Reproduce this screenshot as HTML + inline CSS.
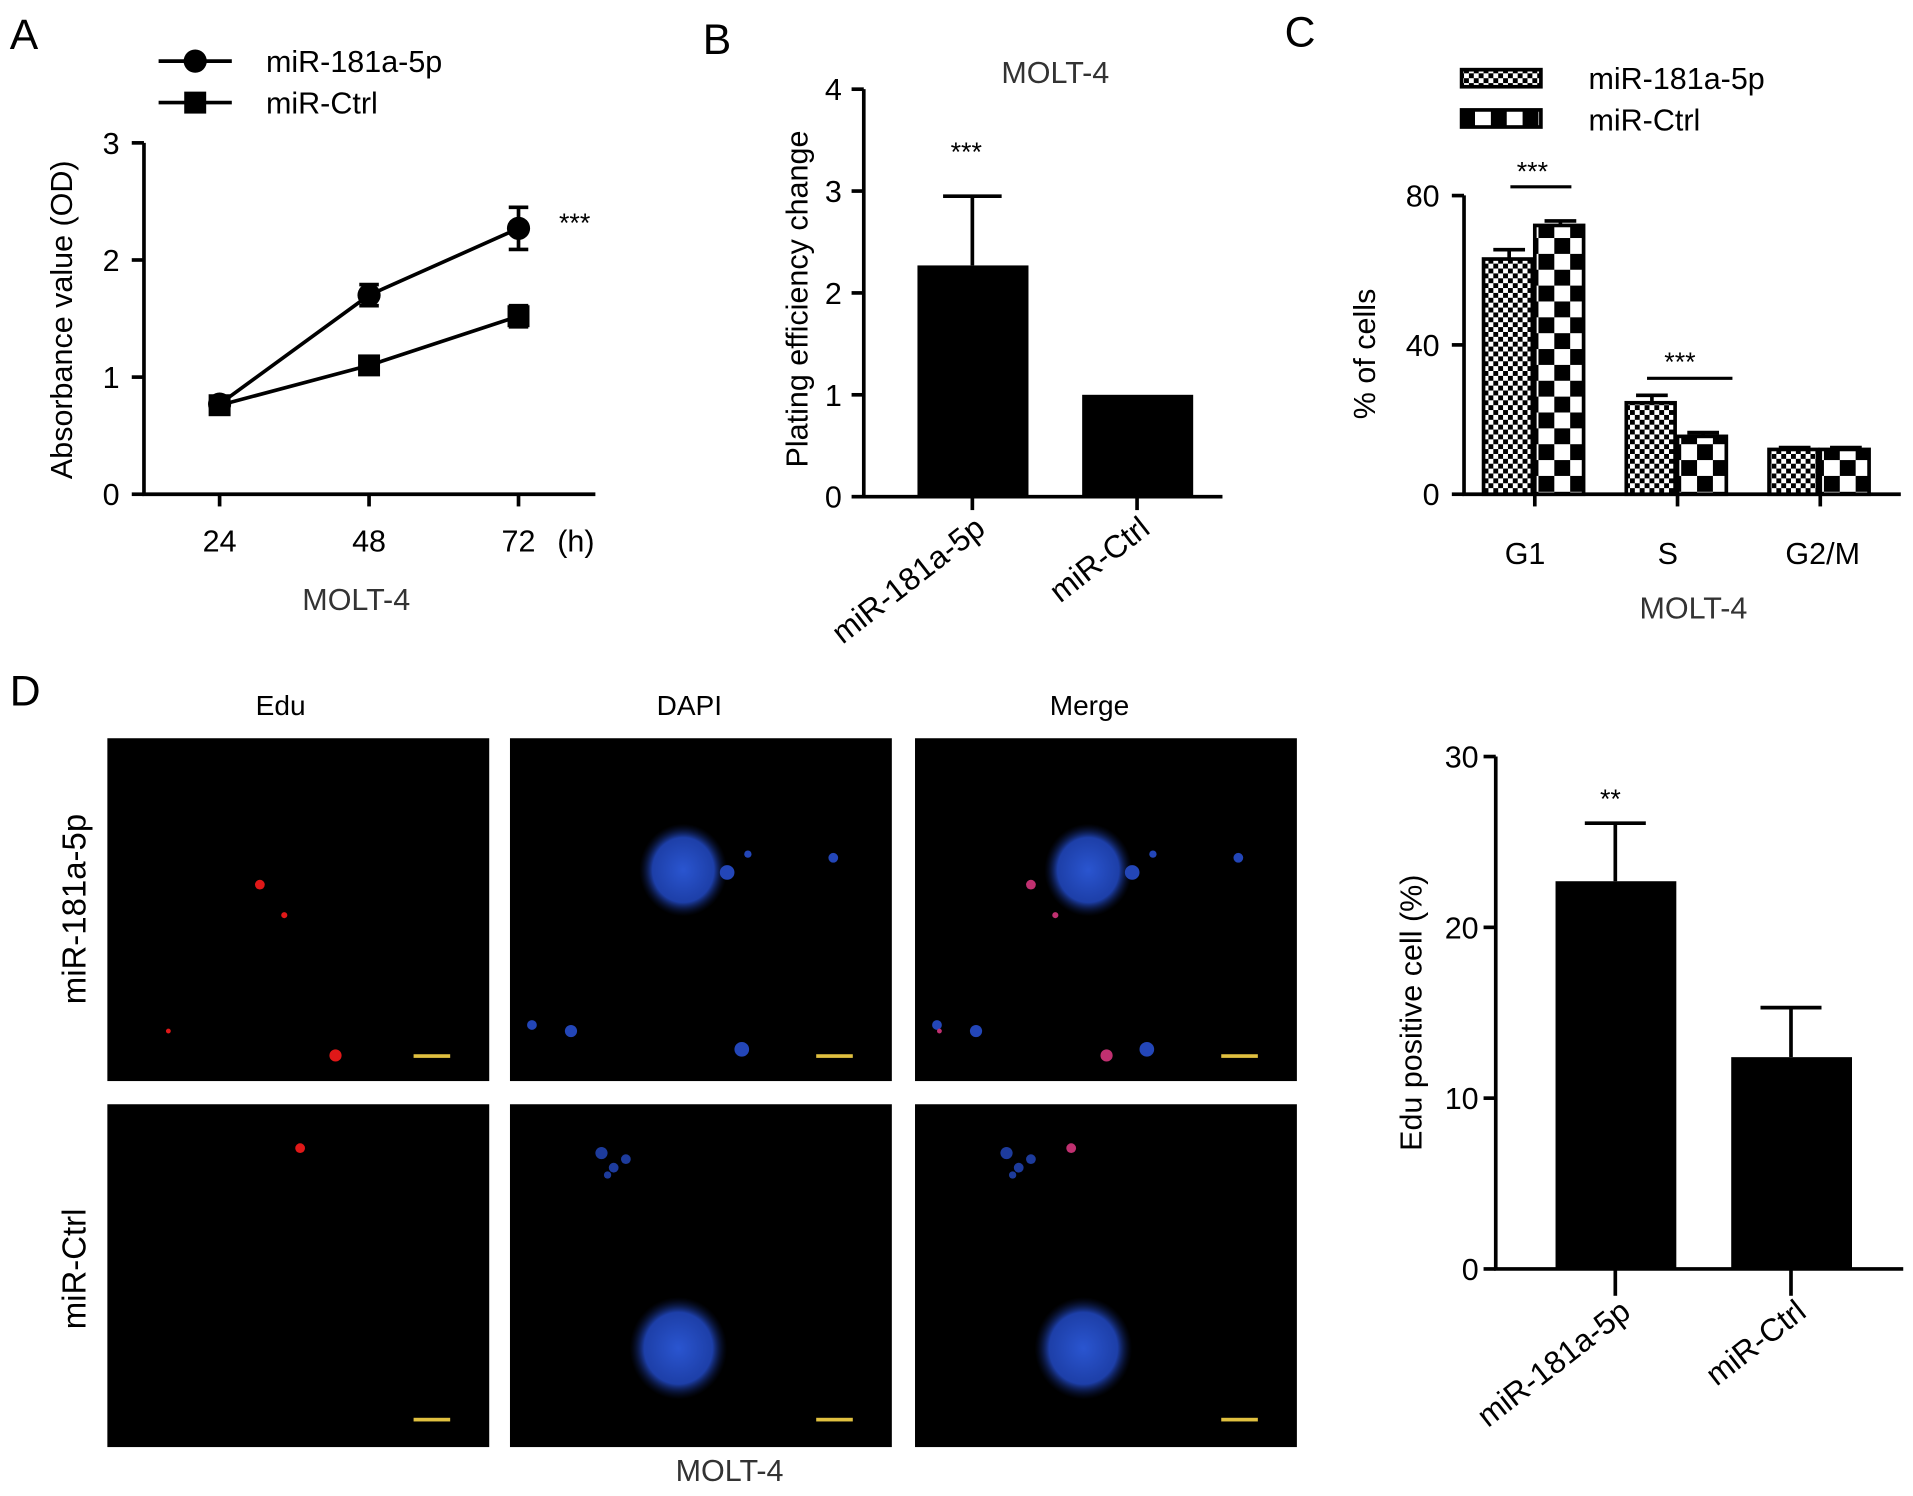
<!DOCTYPE html>
<html><head><meta charset="utf-8"><style>
html,body{margin:0;padding:0;background:#fff;}
svg{display:block;font-family:"Liberation Sans",Arial,sans-serif;}
</style></head><body>
<svg id="s" width="1913" height="1496" viewBox="0 0 1568 1226" xmlns="http://www.w3.org/2000/svg">
<defs>
<pattern id="pSmall" width="8" height="8" patternUnits="userSpaceOnUse"><rect width="8" height="8" fill="#fff"/><rect width="4" height="4" fill="#000"/><rect x="4" y="4" width="4" height="4" fill="#000"/></pattern>
<pattern id="pBig" width="26" height="26" patternUnits="userSpaceOnUse"><rect width="26" height="26" fill="#fff"/><rect x="13" width="13" height="13" fill="#000"/><rect y="13" width="13" height="13" fill="#000"/></pattern>
<radialGradient id="blob"><stop offset="0" stop-color="#2a55d0"/><stop offset="0.7" stop-color="#1d3fa8"/><stop offset="1" stop-color="#0a1540" stop-opacity="0"/></radialGradient>
</defs>
<g font-size="35">
<text x="8" y="40">A</text>
<text x="576" y="44">B</text>
<text x="1053" y="38">C</text>
<text x="8" y="578">D</text>
</g>
<g id="A"></g>
<g id="B"></g>
<g id="C"></g>
<g id="D"></g>
<g id="E"></g>
</svg>
<script>
// Panel A data
const aCats=['24','48','72'];
const aMir=[0.77,1.7,2.27];
const aMirErr=[0.05,0.09,0.18];
const aCtrl=[0.76,1.1,1.52];
const aCtrlErr=[0.04,0.05,0.09];
const aTicks=[0,1,2,3];
// Panel B data
const bCats=['miR-181a-5p','miR-Ctrl'];
const bVals=[2.27,1.0];
const bErr=[0.68,0];
const bTicks=[0,1,2,3,4];
// Panel C data
const cCats=['G1','S','G2/M'];
const cMir=[63,24.5,12];
const cMirErr=[2.5,2,0.5];
const cCtrl=[72,15.5,12];
const cCtrlErr=[1.2,1,0.5];
const cTicks=[0,40,80];
// Panel D bar data
const eCats=['miR-181a-5p','miR-Ctrl'];
const eVals=[22.7,12.4];
const eErr=[3.4,2.9];
const eTicks=[0,10,20,30];

const NS='http://www.w3.org/2000/svg';
function mk(p,tag,at,txt){const e=document.createElementNS(NS,tag);for(const k in at)e.setAttribute(k,at[k]);if(txt!==undefined)e.textContent=txt;p.appendChild(e);return e;}
const K={stroke:'#000','stroke-width':3,fill:'none'};

// ---------- Panel A ----------
(function(){
const g=document.getElementById('A');
const y=v=>405-v*96, x=i=>180+i*122.5;
let e=mk(g,'path',Object.assign({d:'M118,117V405H488'},K));


aTicks.forEach(t=>{mk(g,'line',{x1:108,x2:118,y1:y(t),y2:y(t),stroke:'#000','stroke-width':3});
 let l=mk(g,'text',{x:98,y:y(t)+9,'font-size':25,'text-anchor':'end'},t);
 
 });
aCats.forEach((c,i)=>{mk(g,'line',{x1:x(i),x2:x(i),y1:405,y2:415,stroke:'#000','stroke-width':3});
 let l=mk(g,'text',{x:x(i),y:452,'font-size':25,'text-anchor':'middle'},c);
 
 });
mk(g,'text',{x:472,y:452,'font-size':25,'text-anchor':'middle'},'(h)');
e=mk(g,'text',{x:292,y:500,'font-size':25,'text-anchor':'middle',fill:'#333'},'MOLT-4');


e=mk(g,'text',{transform:'translate(59,262) rotate(-90)','font-size':25,'text-anchor':'middle'},'Absorbance value (OD)');


function series(vals,errs,sq,name){
 const s=mk(g,'g',{});
 
 
 mk(s,'polyline',Object.assign({points:vals.map((v,i)=>x(i)+','+y(v)).join(' ')},K));
 vals.forEach((v,i)=>{const d=errs[i]*96;
  mk(s,'path',{d:`M${x(i)},${y(v)-d}V${y(v)+d}M${x(i)-8},${y(v)-d}H${x(i)+8}M${x(i)-8},${y(v)+d}H${x(i)+8}`,stroke:'#000','stroke-width':3});
  let m=sq?mk(s,'rect',{x:x(i)-9,y:y(v)-9,width:18,height:18}):mk(s,'circle',{cx:x(i),cy:y(v),r:9.5});
  
  });
}
series(aCtrl,aCtrlErr,true,'a-series-mir-ctrl');
series(aMir,aMirErr,false,'a-series-mir-181a-5p');
mk(g,'text',{x:471,y:190,'font-size':22,'text-anchor':'middle'},'***');
const lg=mk(g,'g',{});


mk(lg,'line',{x1:130,x2:190,y1:50,y2:50,stroke:'#000','stroke-width':3});mk(lg,'circle',{cx:160,cy:50,r:9.5});
mk(lg,'text',{x:218,y:59,'font-size':25},'miR-181a-5p');
mk(lg,'line',{x1:130,x2:190,y1:84,y2:84,stroke:'#000','stroke-width':3});mk(lg,'rect',{x:151,y:75,width:18,height:18});
mk(lg,'text',{x:218,y:93,'font-size':25},'miR-Ctrl');
})();

// ---------- Panel B ----------
(function(){
const g=document.getElementById('B');
const y=v=>407-v*83.5, x=i=>797+i*135;
let e=mk(g,'path',Object.assign({d:'M708,73V407H1002'},K));


bTicks.forEach(t=>{mk(g,'line',{x1:698,x2:708,y1:y(t),y2:y(t),stroke:'#000','stroke-width':3});
 let l=mk(g,'text',{x:690,y:y(t)+9,'font-size':25,'text-anchor':'end'},t);
 
 });
bCats.forEach((c,i)=>{
 if(bErr[i]>0){mk(g,'path',{d:`M${x(i)},${y(bVals[i])}V${y(bVals[i]+bErr[i])}M${x(i)-24},${y(bVals[i]+bErr[i])}H${x(i)+24}`,stroke:'#000','stroke-width':3});}
 let r=mk(g,'rect',{x:x(i)-45,y:y(bVals[i]),width:91,height:bVals[i]*83.5});
 
 
 mk(g,'line',{x1:x(i),x2:x(i),y1:407,y2:418,stroke:'#000','stroke-width':3});
 let l=mk(g,'text',{transform:`translate(${x(i)+12},436) rotate(-38)`,'font-size':26,'text-anchor':'end'},c);
 
 });
e=mk(g,'text',{x:865,y:68,'font-size':25,'text-anchor':'middle',fill:'#333'},'MOLT-4');


mk(g,'text',{x:792,y:132,'font-size':22,'text-anchor':'middle'},'***');
e=mk(g,'text',{transform:'translate(662,245) rotate(-90)','font-size':25,'text-anchor':'middle'},'Plating efficiency change');


})();

// ---------- Panel C ----------
(function(){
const g=document.getElementById('C');
const y=v=>405-v*3.06, xc=i=>1258+i*117;
let e=mk(g,'path',Object.assign({d:'M1200,160V405H1558'},K));


cTicks.forEach(t=>{mk(g,'line',{x1:1190,x2:1200,y1:y(t),y2:y(t),stroke:'#000','stroke-width':3});
 let l=mk(g,'text',{x:1180,y:y(t)+9,'font-size':25,'text-anchor':'end'},t);
 
 });
cCats.forEach((c,i)=>{
 [[cMir,cMirErr,'url(#pSmall)',-42,'mir-181a-5p'],[cCtrl,cCtrlErr,'url(#pBig)',0,'mir-ctrl']].forEach(s=>{
  const v=s[0][i],er=s[1][i],x0=xc(i)+s[3];
  mk(g,'path',{d:`M${x0+21},${y(v)}V${y(v+er)}M${x0+8},${y(v+er)}H${x0+34}`,stroke:'#000','stroke-width':3});
  let r=mk(g,'rect',{x:x0,y:y(v),width:40,height:v*3.06,fill:s[2],stroke:'#000','stroke-width':3});
  
  });
 mk(g,'line',{x1:xc(i),x2:xc(i),y1:405,y2:415,stroke:'#000','stroke-width':3});
 let l=mk(g,'text',{x:xc(i)-8+(i==2?10:0),y:462,'font-size':25,'text-anchor':'middle'},c);
 
 });
mk(g,'line',{x1:1238,x2:1288,y1:153,y2:153,stroke:'#000','stroke-width':2.5});
mk(g,'text',{x:1256,y:148,'font-size':22,'text-anchor':'middle'},'***');
mk(g,'line',{x1:1350,x2:1420,y1:310,y2:310,stroke:'#000','stroke-width':2.5});
mk(g,'text',{x:1377,y:304,'font-size':22,'text-anchor':'middle'},'***');
e=mk(g,'text',{x:1388,y:507,'font-size':25,'text-anchor':'middle',fill:'#333'},'MOLT-4');


e=mk(g,'text',{transform:'translate(1127,290) rotate(-90)','font-size':25,'text-anchor':'middle'},'% of cells');


const lg=mk(g,'g',{});


mk(lg,'rect',{x:1198,y:57,width:65,height:14,fill:'url(#pSmall)',stroke:'#000','stroke-width':3});
mk(lg,'text',{x:1302,y:73,'font-size':25},'miR-181a-5p');
mk(lg,'rect',{x:1198,y:90,width:65,height:14,fill:'url(#pBig)',stroke:'#000','stroke-width':3});
mk(lg,'text',{x:1302,y:107,'font-size':25},'miR-Ctrl');
})();

// ---------- Panel D images ----------
(function(){
const g=document.getElementById('D');
const cols=[88,418,750], rows=[605,905], heads=['Edu','DAPI','Merge'], headX=[230,565,893];
heads.forEach((h,i)=>{let t=mk(g,'text',{x:headX[i],y:586,'font-size':23,'text-anchor':'middle'},h);
 
 });
[['miR-181a-5p',745],['miR-Ctrl',1040]].forEach(r=>{let t=mk(g,'text',{transform:`translate(70,${r[1]}) rotate(-90)`,'font-size':27,'text-anchor':'middle'},r[0]);
 
 });
let t=mk(g,'text',{x:598,y:1214,'font-size':25,'text-anchor':'middle',fill:'#333'},'MOLT-4');


rows.forEach((ry,ri)=>cols.forEach((cx,ci)=>{
 const p=mk(g,'g',{});
 
 
 mk(p,'rect',{x:cx,y:ry,width:313,height:281,fill:'#000'});
 if(ci>0){
  if(ri==0){mk(p,'ellipse',{cx:cx+142,cy:ry+108,rx:36,ry:38,fill:'url(#blob)'});
   [[178,110,6],[18,235,4],[50,240,5],[190,255,6],[265,98,4],[195,95,3]].forEach(d=>mk(p,'circle',{cx:cx+d[0],cy:ry+d[1],r:d[2],fill:'#2346b8'}));}
  else{mk(p,'ellipse',{cx:cx+138,cy:ry+200,rx:40,ry:42,fill:'url(#blob)'});
   [[75,40,5],[85,52,4],[95,45,4],[80,58,3]].forEach(d=>mk(p,'circle',{cx:cx+d[0],cy:ry+d[1],r:d[2],fill:'#1d3b9c'}));}
 }
 if(ci!=1){
  const dots=ri==0?[[125,120,4],[145,145,2.5],[187,260,5],[50,240,2]]:[[158,36,4]];
  dots.forEach(d=>mk(p,'circle',{cx:cx+(ci==2?d[0]-30:d[0]),cy:ry+d[1],r:d[2],fill:ci==2?'#c03070':'#e01818'}));
 }
 mk(p,'rect',{x:cx+251,y:ry+259-(ri*2),width:30,height:3,fill:'#e0c040'});
}));
})();

// ---------- Panel D bar chart ----------
(function(){
const g=document.getElementById('E');
const y=v=>1040-v*14, x=i=>1324+i*144;
let e=mk(g,'path',Object.assign({d:'M1226,620V1040H1560'},K));


eTicks.forEach(t=>{mk(g,'line',{x1:1216,x2:1226,y1:y(t),y2:y(t),stroke:'#000','stroke-width':3});
 let l=mk(g,'text',{x:1212,y:y(t)+9,'font-size':25,'text-anchor':'end'},t);
 
 });
eCats.forEach((c,i)=>{
 const v=eVals[i],er=eErr[i];
 mk(g,'path',{d:`M${x(i)},${y(v)}V${y(v+er)}M${x(i)-25},${y(v+er)}H${x(i)+25}`,stroke:'#000','stroke-width':3});
 let r=mk(g,'rect',{x:x(i)-49,y:y(v),width:99,height:v*14});
 
 
 mk(g,'line',{x1:x(i),x2:x(i),y1:1040,y2:1062,stroke:'#000','stroke-width':3});
 let l=mk(g,'text',{transform:`translate(${x(i)+14},1078) rotate(-38)`,'font-size':26,'text-anchor':'end'},c);
 
 });
mk(g,'text',{x:1320,y:662,'font-size':22,'text-anchor':'middle'},'**');
e=mk(g,'text',{transform:'translate(1165,830) rotate(-90)','font-size':25,'text-anchor':'middle'},'Edu positive cell (%)');


})();
</script>
</body></html>
